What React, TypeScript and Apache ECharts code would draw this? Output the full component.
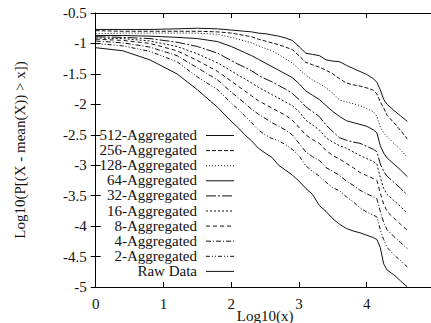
import React, { useEffect, useRef } from "react";
import * as echarts from "echarts";

const xs = [0, 0.4, 0.8, 1.2, 1.5, 1.8, 2.0, 2.1, 2.2, 2.3, 2.4, 2.5, 2.6, 2.7, 2.8, 2.9, 3.0, 3.1, 3.2, 3.3, 3.4, 3.5, 3.6, 3.7, 3.8, 3.9, 4.0, 4.1, 4.15, 4.2, 4.25, 4.3, 4.4, 4.5, 4.6];

const agg512 = [-0.77, -0.77, -0.77, -0.76, -0.75, -0.76, -0.78, -0.79, -0.8, -0.81, -0.83, -0.84, -0.86, -0.88, -0.91, -0.95, -1.05, -1.16, -1.18, -1.2, -1.27, -1.29, -1.3, -1.36, -1.41, -1.46, -1.51, -1.58, -1.64, -1.76, -1.92, -2.0, -2.1, -2.19, -2.28];
const agg256 = [-0.79, -0.8, -0.8, -0.8, -0.8, -0.81, -0.83, -0.85, -0.87, -0.89, -0.93, -0.96, -0.99, -1.02, -1.06, -1.1, -1.2, -1.31, -1.35, -1.39, -1.44, -1.5, -1.58, -1.65, -1.68, -1.7, -1.73, -1.77, -1.83, -1.96, -2.06, -2.18, -2.3, -2.43, -2.57];
const agg128 = [-0.84, -0.83, -0.83, -0.83, -0.83, -0.85, -0.9, -0.93, -0.96, -0.99, -1.04, -1.08, -1.12, -1.18, -1.25, -1.32, -1.42, -1.52, -1.6, -1.66, -1.73, -1.82, -1.93, -1.96, -1.99, -2.02, -2.07, -2.12, -2.2, -2.37, -2.47, -2.53, -2.64, -2.75, -2.87];
const agg64 = [-0.87, -0.87, -0.88, -0.9, -0.92, -0.97, -1.05, -1.1, -1.15, -1.2, -1.26, -1.32, -1.38, -1.44, -1.5, -1.56, -1.66, -1.78, -1.85, -1.92, -2.02, -2.12, -2.2, -2.27, -2.3, -2.33, -2.36, -2.42, -2.47, -2.68, -2.8, -2.88, -2.98, -3.08, -3.19];
const agg32 = [-0.89, -0.9, -0.92, -0.98, -1.05, -1.16, -1.28, -1.34, -1.39, -1.45, -1.52, -1.58, -1.63, -1.69, -1.75, -1.82, -1.92, -2.04, -2.12, -2.2, -2.34, -2.45, -2.55, -2.59, -2.62, -2.64, -2.69, -2.74, -2.78, -2.98, -3.1, -3.18, -3.28, -3.38, -3.49];
const agg16 = [-0.91, -0.92, -0.96, -1.05, -1.17, -1.32, -1.45, -1.52, -1.58, -1.65, -1.72, -1.78, -1.84, -1.9, -1.96, -2.02, -2.12, -2.26, -2.34, -2.42, -2.55, -2.62, -2.68, -2.72, -2.78, -2.84, -2.89, -2.94, -2.98, -3.2, -3.38, -3.48, -3.58, -3.68, -3.79];
const agg8 = [-0.93, -0.95, -1.0, -1.12, -1.28, -1.46, -1.62, -1.7, -1.78, -1.86, -1.94, -2.0, -2.06, -2.12, -2.18, -2.26, -2.38, -2.5, -2.58, -2.64, -2.76, -2.84, -2.9, -2.97, -3.04, -3.12, -3.17, -3.22, -3.25, -3.46, -3.64, -3.76, -3.87, -3.97, -4.07];
const agg4 = [-0.96, -0.99, -1.06, -1.2, -1.4, -1.6, -1.8, -1.89, -1.98, -2.08, -2.16, -2.23, -2.3, -2.36, -2.42, -2.5, -2.64, -2.78, -2.86, -2.92, -3.04, -3.1, -3.17, -3.26, -3.33, -3.41, -3.47, -3.52, -3.55, -3.76, -3.94, -4.06, -4.17, -4.27, -4.37];
const agg2 = [-1.0, -1.04, -1.13, -1.3, -1.55, -1.76, -1.98, -2.08, -2.19, -2.3, -2.42, -2.5, -2.56, -2.6, -2.66, -2.74, -2.84, -3.01, -3.1, -3.18, -3.28, -3.37, -3.42, -3.52, -3.6, -3.7, -3.77, -3.82, -3.85, -4.06, -4.22, -4.35, -4.47, -4.57, -4.67];
const rawData = [-1.07, -1.12, -1.27, -1.5, -1.76, -2.05, -2.28, -2.38, -2.5, -2.6, -2.72, -2.8, -2.87, -3.0, -3.08, -3.16, -3.26, -3.38, -3.48, -3.66, -3.76, -3.88, -3.97, -4.04, -4.08, -4.11, -4.15, -4.19, -4.22, -4.35, -4.62, -4.72, -4.8, -4.9, -5.0];

const seriesNames = ["512-Aggregated", "256-Aggregated", "128-Aggregated", "64-Aggregated", "32-Aggregated", "16-Aggregated", "8-Aggregated", "4-Aggregated", "2-Aggregated", "Raw Data"];
const seriesValues = [agg512, agg256, agg128, agg64, agg32, agg16, agg8, agg4, agg2, rawData];
const dashes: (string | number[])[] = [
  "solid",
  [4, 2],
  [1, 2],
  "solid",
  [10, 2, 2, 2],
  [2, 2],
  [4, 3],
  [5, 2, 1, 2],
  [4, 2, 1, 2, 1, 2],
  "solid",
];

const xTicks = [0, 1, 2, 3, 4, 5];
const yTicks = [-5, -4.5, -4, -3.5, -3, -2.5, -2, -1.5, -1, -0.5];

const FONT = "Liberation Serif";

export default function App() {
  const ref = useRef<HTMLDivElement>(null);
  useEffect(() => {
    document.body.style.margin = "0";
    document.body.style.overflow = "hidden";
    const chart = echarts.init(ref.current!, null, { renderer: "svg" });
    const W = 441;
    const left = 95.7;
    const right = W - 434.5;
    const top = 13;
    const bottom = 323 - 287;

    const legendGraphics: any[] = [];
    seriesNames.forEach((name, i) => {
      const y = 135 + 15.1 * i;
      legendGraphics.push({
        type: "text",
        x: 197,
        y,
        style: {
          text: name,
          font: `15px "${FONT}"`,
          fill: "#111",
          textAlign: "right",
          textVerticalAlign: "middle",
        },
      });
      const d = dashes[i];
      legendGraphics.push({
        type: "line",
        shape: { x1: 206, y1: y + 0.5, x2: 234, y2: y + 0.5 },
        style: {
          stroke: "#111",
          lineWidth: 1,
          lineDash: Array.isArray(d) ? d : null,
        },
      });
    });

    const axisCommon = {
      axisLine: { show: true, lineStyle: { color: "#000", width: 1 } },
      axisTick: { show: true, inside: true, length: 5, lineStyle: { color: "#000" } },
      splitLine: { show: false },
    };

    chart.setOption({
      animation: false,
      backgroundColor: "#fff",
      grid: { left, right, top, bottom, containLabel: false, outerBoundsMode: "none" },
      xAxis: [
        {
          type: "value",
          min: 0,
          max: 5,
          interval: 1,
          ...axisCommon,
          axisLabel: {
            margin: 9,
            fontFamily: FONT,
            fontSize: 15,
            color: "#111",
            formatter: (v: number) => (xTicks.indexOf(v) >= 0 && v < 5 ? String(v) : ""),
          },
          name: "Log10(x)",
          nameLocation: "middle",
          nameGap: 21,
          nameMoveOverlap: false,
          nameTextStyle: { fontFamily: FONT, fontSize: 15, color: "#111", lineHeight: 15 },
        },
        {
          type: "value",
          position: "top",
          min: 0,
          max: 5,
          interval: 1,
          ...axisCommon,
          axisLabel: { show: false },
        },
      ],
      yAxis: [
        {
          type: "value",
          min: -5,
          max: -0.5,
          interval: 0.5,
          ...axisCommon,
          axisLabel: {
            margin: 9,
            fontFamily: FONT,
            fontSize: 15,
            color: "#111",
            formatter: (v: number) => (yTicks.some((t) => Math.abs(t - v) < 1e-9) ? String(v) : ""),
          },
          name: "Log10(P[(X - mean(X)) > x])",
          nameLocation: "middle",
          nameGap: 68,
          nameMoveOverlap: false,
          nameTextStyle: { fontFamily: FONT, fontSize: 15, color: "#111" },
        },
        {
          type: "value",
          position: "right",
          min: -5,
          max: -0.5,
          interval: 0.5,
          ...axisCommon,
          axisLine: { show: false },
          axisLabel: { show: false },
        },
      ],
      series: seriesNames.map((name, i) => ({
        name,
        type: "line",
        xAxisIndex: 0,
        yAxisIndex: 0,
        symbol: "none",
        showSymbol: false,
        data: xs.map((x, j) => [x, seriesValues[i][j]]),
        lineStyle: { color: "#111", width: 1, type: dashes[i] },
        z: 3,
      })),
      graphic: legendGraphics,
    });
    return () => chart.dispose();
  }, []);
  return <div ref={ref} style={{ position: "absolute", left: 0, top: 0, width: 441, height: 323 }} />;
}
